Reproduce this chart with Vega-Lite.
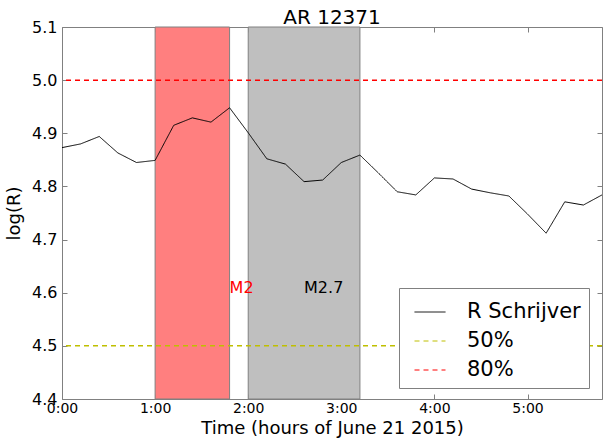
{
  "$schema": "https://vega.github.io/schema/vega-lite/v6.json",
  "autosize": "none",
  "width": 540,
  "height": 372,
  "padding": {"left": 62, "top": 27, "right": 1, "bottom": 41},
  "background": "white",
  "config": {
    "font": "DejaVu Sans",
    "view": {"stroke": "#808080", "strokeWidth": 1},
    "axis": {"domain": false, "grid": false, "tickColor": "#808080", "tickSize": -5, "labelColor": "black", "titleColor": "black", "titleFontWeight": "normal", "labelFont": "DejaVu Sans", "titleFont": "DejaVu Sans", "labelFlush": false},
    "legend": {"labelFont": "DejaVu Sans"}
  },
  "title": {"text": "AR 12371", "fontSize": 20, "fontWeight": "normal", "font": "DejaVu Sans", "color": "black", "offset": -9},
  "datasets": {
    "series": [
      {"t": 0.0, "logR": 4.873, "series": "R Schrijver"},
      {"t": 0.2, "logR": 4.880, "series": "R Schrijver"},
      {"t": 0.4, "logR": 4.894, "series": "R Schrijver"},
      {"t": 0.6, "logR": 4.863, "series": "R Schrijver"},
      {"t": 0.8, "logR": 4.845, "series": "R Schrijver"},
      {"t": 1.0, "logR": 4.849, "series": "R Schrijver"},
      {"t": 1.2, "logR": 4.915, "series": "R Schrijver"},
      {"t": 1.4, "logR": 4.929, "series": "R Schrijver"},
      {"t": 1.6, "logR": 4.921, "series": "R Schrijver"},
      {"t": 1.8, "logR": 4.948, "series": "R Schrijver"},
      {"t": 2.0, "logR": 4.901, "series": "R Schrijver"},
      {"t": 2.2, "logR": 4.852, "series": "R Schrijver"},
      {"t": 2.4, "logR": 4.842, "series": "R Schrijver"},
      {"t": 2.6, "logR": 4.809, "series": "R Schrijver"},
      {"t": 2.8, "logR": 4.812, "series": "R Schrijver"},
      {"t": 3.0, "logR": 4.845, "series": "R Schrijver"},
      {"t": 3.2, "logR": 4.859, "series": "R Schrijver"},
      {"t": 3.4, "logR": 4.825, "series": "R Schrijver"},
      {"t": 3.6, "logR": 4.790, "series": "R Schrijver"},
      {"t": 3.8, "logR": 4.784, "series": "R Schrijver"},
      {"t": 4.0, "logR": 4.816, "series": "R Schrijver"},
      {"t": 4.2, "logR": 4.814, "series": "R Schrijver"},
      {"t": 4.4, "logR": 4.795, "series": "R Schrijver"},
      {"t": 4.6, "logR": 4.788, "series": "R Schrijver"},
      {"t": 4.8, "logR": 4.782, "series": "R Schrijver"},
      {"t": 5.0, "logR": 4.748, "series": "R Schrijver"},
      {"t": 5.2, "logR": 4.712, "series": "R Schrijver"},
      {"t": 5.4, "logR": 4.771, "series": "R Schrijver"},
      {"t": 5.6, "logR": 4.765, "series": "R Schrijver"},
      {"t": 5.8, "logR": 4.784, "series": "R Schrijver"}
    ],
    "flares": [
      {"event": "M2", "start": 1.0, "end": 1.8, "label_t": 1.8, "label_v": 4.6},
      {"event": "M2.7", "start": 2.0, "end": 3.2, "label_t": 2.6, "label_v": 4.6}
    ],
    "thresholds": [
      {"series": "50%", "level": 4.5},
      {"series": "80%", "level": 5.0}
    ]
  },
  "resolve": {"axis": {"x": "independent", "y": "independent"}},
  "layer": [
    {
      "data": {"name": "flares"},
      "mark": {"type": "rect", "stroke": "#808080", "strokeWidth": 1},
      "encoding": {
        "x": {"field": "start", "type": "quantitative", "scale": {"domain": [0, 5.8], "nice": false, "zero": false},
              "axis": {"orient": "bottom", "values": [0, 1, 2, 3, 4, 5], "labelExpr": "datum.value + ':00'", "labelFontSize": 14, "labelPadding": 7, "title": "Time (hours of June 21 2015)", "titleFontSize": 18, "titlePadding": 4}},
        "x2": {"field": "end"},
        "fill": {"field": "event", "type": "nominal", "scale": {"domain": ["M2", "M2.7"], "range": ["#ff7f7f", "#bfbfbf"]}, "legend": null}
      }
    },
    {
      "data": {"name": "series"},
      "mark": {"type": "line", "strokeWidth": 1},
      "encoding": {
        "x": {"field": "t", "type": "quantitative", "axis": {"orient": "top", "values": [0, 1, 2, 3, 4, 5], "labels": false, "title": null, "minExtent": 0, "maxExtent": 0}},
        "y": {"field": "logR", "type": "quantitative", "scale": {"domain": [4.4, 5.1], "nice": false, "zero": false},
              "axis": {"orient": "left", "values": [4.4, 4.5, 4.6, 4.7, 4.8, 4.9, 5.0, 5.1], "format": ".1f", "labelFontSize": 16, "labelPadding": 10, "title": "log(R)", "titleFontSize": 18, "titlePadding": 8}},
        "stroke": {"field": "series", "type": "nominal", "scale": {"domain": ["R Schrijver", "50%", "80%"], "range": ["black", "#bfbf00", "red"]},
                   "legend": {"title": null, "orient": "none", "legendX": 337, "legendY": 261, "strokeColor": "#808080", "fillColor": "white", "padding": 8, "symbolType": "stroke", "symbolSize": 961, "symbolStrokeWidth": 1, "symbolOffset": 7, "labelFontSize": 21, "labelOffset": 21, "rowPadding": 3, "labelColor": "black"}},
        "strokeDash": {"field": "series", "type": "nominal", "scale": {"domain": ["R Schrijver", "50%", "80%"], "range": [[1, 0], [5, 4], [5, 4]]},
                   "legend": {"title": null, "orient": "none", "legendX": 337, "legendY": 261, "strokeColor": "#808080", "fillColor": "white", "padding": 8, "symbolType": "stroke", "symbolSize": 961, "symbolStrokeWidth": 1, "symbolOffset": 7, "labelFontSize": 21, "labelOffset": 21, "rowPadding": 3, "labelColor": "black"}}
      }
    },
    {
      "data": {"name": "thresholds"},
      "mark": {"type": "rule", "strokeWidth": 1.5, "strokeDash": [6, 4]},
      "encoding": {
        "y": {"field": "level", "type": "quantitative", "axis": {"orient": "right", "values": [4.4, 4.5, 4.6, 4.7, 4.8, 4.9, 5.0, 5.1], "labels": false, "title": null}},
        "stroke": {"field": "series", "type": "nominal"},
        "strokeDash": {"field": "series", "type": "nominal"}
      }
    },
    {
      "data": {"name": "flares"},
      "mark": {"type": "text", "align": "left", "baseline": "alphabetic", "fontSize": 16},
      "encoding": {
        "x": {"field": "label_t", "type": "quantitative", "axis": null},
        "y": {"field": "label_v", "type": "quantitative", "axis": null},
        "text": {"field": "event"},
        "color": {"field": "event", "type": "nominal", "scale": {"domain": ["M2", "M2.7"], "range": ["red", "black"]}, "legend": null}
      }
    }
  ]
}
